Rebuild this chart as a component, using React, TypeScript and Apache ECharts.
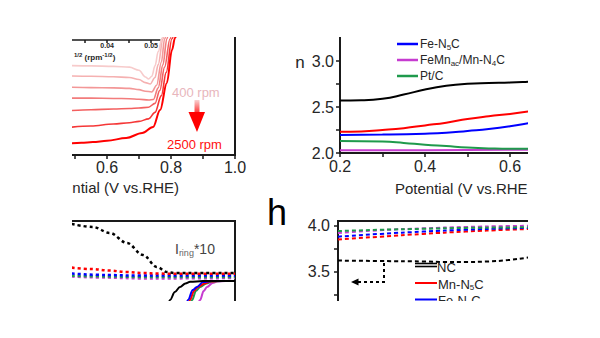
import React, { useEffect, useRef } from 'react';
import * as echarts from 'echarts';

const FONT = '"Liberation Sans", Arial, Helvetica, sans-serif';
const INK = '#1a1a1a';
const LABEL = '#262626';

// ---- Panel A: LSV curves at different rotation speeds (x: V vs RHE, y: mA cm-2)
const rpmColors = ['#f7cbcb', '#f5b1b1', '#f39797', '#f27c7c', '#f35f5f', '#f53737', '#ff0000'];
const lsv400 = [[0.49, -2.54], [0.55, -2.55], [0.62, -2.57], [0.67, -2.6], [0.70, -2.72], [0.72, -2.98], [0.73, -3.06], [0.74, -2.95], [0.75, -2.55], [0.76, -2.0], [0.772, -1.47], [0.79, -0.7], [0.82, -0.2], [0.9, -0.02]];
const lsv625 = [[0.49, -2.94], [0.55, -2.95], [0.62, -2.97], [0.67, -3.0], [0.70, -3.08], [0.72, -3.2], [0.735, -3.25], [0.75, -3.0], [0.76, -2.5], [0.775, -1.5], [0.79, -0.8], [0.82, -0.25], [0.9, -0.03]];
const lsv900 = [[0.49, -3.38], [0.55, -3.39], [0.62, -3.4], [0.67, -3.42], [0.70, -3.47], [0.72, -3.53], [0.74, -3.56], [0.755, -3.3], [0.77, -2.4], [0.78, -1.5], [0.80, -0.7], [0.83, -0.25], [0.9, -0.03]];
const lsv1225 = [[0.49, -3.8], [0.55, -3.8], [0.62, -3.81], [0.67, -3.82], [0.70, -3.84], [0.73, -3.87], [0.745, -3.85], [0.76, -3.4], [0.775, -2.5], [0.787, -1.5], [0.80, -0.8], [0.83, -0.3], [0.9, -0.03]];
const lsv1600 = [[0.49, -4.28], [0.55, -4.25], [0.62, -4.22], [0.67, -4.2], [0.70, -4.18], [0.73, -4.15], [0.75, -4.0], [0.765, -3.5], [0.78, -2.6], [0.797, -1.5], [0.81, -0.8], [0.84, -0.3], [0.9, -0.03]];
const lsv2025 = [[0.49, -4.92], [0.55, -4.88], [0.62, -4.8], [0.67, -4.75], [0.70, -4.7], [0.73, -4.6], [0.75, -4.35], [0.77, -3.7], [0.785, -2.8], [0.803, -1.5], [0.82, -0.8], [0.85, -0.3], [0.9, -0.03]];
const lsv2500 = [[0.49, -5.55], [0.52, -5.53], [0.556, -5.5], [0.60, -5.45], [0.66, -5.34], [0.71, -5.15], [0.744, -4.92], [0.766, -4.26], [0.787, -3.21], [0.803, -1.94], [0.8125, -1.47], [0.83, -0.8], [0.86, -0.3], [0.92, -0.03]];
const lsvSets = [lsv400, lsv625, lsv900, lsv1225, lsv1600, lsv2025, lsv2500];
const aTicks = [0.5, 0.6, 0.7, 0.8, 0.9, 1.0];
const aLabels = [0.6, 0.8, 1.0];
const insetTicks = [0.035, 0.04, 0.045, 0.05];
const insetLabels = [0.04, 0.05];

// ---- Panel B: electron transfer number n
const nNC = [[0.2, 2.57], [0.25, 2.573], [0.3, 2.59], [0.35, 2.635], [0.4, 2.69], [0.45, 2.73], [0.5, 2.752], [0.55, 2.76], [0.6, 2.765], [0.65, 2.775], [0.7, 2.785]];
const nMn = [[0.2, 2.23], [0.25, 2.235], [0.3, 2.25], [0.35, 2.27], [0.4, 2.3], [0.45, 2.33], [0.5, 2.37], [0.55, 2.4], [0.6, 2.425], [0.65, 2.455], [0.7, 2.48]];
const nFe = [[0.2, 2.195], [0.3, 2.2], [0.4, 2.21], [0.45, 2.22], [0.5, 2.24], [0.55, 2.26], [0.6, 2.29], [0.65, 2.33], [0.7, 2.37]];
const nPt = [[0.2, 2.13], [0.3, 2.125], [0.35, 2.11], [0.4, 2.09], [0.45, 2.075], [0.5, 2.06], [0.55, 2.05], [0.6, 2.045], [0.7, 2.045]];
const nFeMn = [[0.2, 2.03], [0.4, 2.03], [0.6, 2.035], [0.7, 2.035]];
const bxTicks = [0.2, 0.3, 0.4, 0.5, 0.6];
const bxLabels = [0.2, 0.4, 0.6];
const byTicks = [2.0, 2.25, 2.5, 2.75, 3.0];
const byLabels = [2.0, 2.5, 3.0];

// ---- Panel C: RRDE ring (x10, dashed) and disk (solid) currents
const ringNC = [[0.49, 2.85], [0.556, 2.7], [0.609, 2.4], [0.6625, 1.9], [0.7125, 1.3], [0.756, 0.7], [0.7875, 0.45], [0.81, 0.4], [0.9, 0.4], [1.0, 0.4]];
const ringMn = [[0.49, 0.67], [0.55, 0.6], [0.609, 0.52], [0.66, 0.45], [0.7125, 0.4], [0.76, 0.37], [0.85, 0.36], [1.0, 0.36]];
const ringFe = [[0.49, 0.37], [0.6, 0.3], [0.7, 0.27], [0.8, 0.27], [1.0, 0.28]];
const ringPt = [[0.49, 0.26], [0.6, 0.23], [0.7, 0.2], [0.8, 0.2], [1.0, 0.2]];
const ringFeMn = [[0.49, 0.22], [0.6, 0.17], [0.7, 0.13], [0.8, 0.13], [1.0, 0.15]];
const diskNC = [[0.74, -4], [0.77, -2.5], [0.797, -0.95], [0.812, -0.55], [0.828, -0.3], [0.845, -0.12], [0.86, -0.04], [0.9, 0], [1.0, 0]];
const diskFe = [[0.80, -4], [0.83, -2.3], [0.853, -0.95], [0.868, -0.45], [0.881, -0.3], [0.9, -0.05], [0.93, 0], [1.0, 0]];
const diskMn = [[0.805, -4], [0.835, -2.3], [0.859, -0.95], [0.872, -0.5], [0.884, -0.3], [0.905, -0.12], [0.922, -0.03], [0.95, 0], [1.0, 0]];
const diskPt = [[0.81, -4], [0.84, -2.3], [0.866, -0.95], [0.878, -0.5], [0.891, -0.3], [0.91, -0.12], [0.928, -0.03], [0.96, 0], [1.0, 0]];
const diskFeMn = [[0.83, -4], [0.86, -2.3], [0.891, -0.95], [0.902, -0.5], [0.9125, -0.3], [0.93, -0.1], [0.944, -0.03], [0.97, 0], [1.0, 0]];

// ---- Panel D: n from RRDE
const hNC = [[0.2, 3.62], [0.3, 3.615], [0.4, 3.61], [0.45, 3.605], [0.5, 3.605], [0.55, 3.61], [0.6, 3.625], [0.65, 3.655], [0.7, 3.69]];
const hMn = [[0.2, 3.85], [0.3, 3.88], [0.4, 3.91], [0.5, 3.935], [0.6, 3.955], [0.7, 3.97]];
const hFe = [[0.2, 3.88], [0.3, 3.91], [0.4, 3.935], [0.5, 3.955], [0.6, 3.97], [0.7, 3.98]];
const hPt = [[0.2, 3.94], [0.3, 3.955], [0.4, 3.965], [0.5, 3.975], [0.6, 3.98], [0.7, 3.985]];
const hFeMn = [[0.2, 3.92], [0.3, 3.95], [0.4, 3.97], [0.5, 3.985], [0.6, 3.995], [0.7, 4.0]];
const hTicks = [3.25, 3.5, 3.75, 4.0];
const hLabels = [3.5, 4.0];

const C_BLACK = '#000000';
const C_RED = '#ff0000';
const C_BLUE = '#0000ff';
const C_GREEN = '#1f9a4c';
const C_MAG = '#c63bd0';

const axisLineS = { onZero: false, lineStyle: { color: INK, width: 2 } };
const tick = (vals: number[]) => ({ length: 4, customValues: vals, lineStyle: { color: INK, width: 1.5 } });
const lab = (vals: number[], margin: number) => ({ fontSize: 16, color: LABEL, margin, customValues: vals, formatter: (v: number) => v.toFixed(1) });

function line(data: number[][], idx: number, color: string, width: number, dash?: any, mono = true) {
  const s: any = {
    type: 'line', xAxisIndex: idx, yAxisIndex: idx, data, showSymbol: false, symbol: 'none',
    smooth: mono ? 0.35 : 0.5, z: 2,
    lineStyle: { color, width, type: dash || 'solid' },
  };
  if (mono) s.smoothMonotone = 'x';
  return s;
}

function rt(x: number, y: number, text: string, rich: any, align = 'left') {
  return {
    type: 'text', x, y, z: 50,
    style: { text, rich, textAlign: align, align, textVerticalAlign: 'middle', verticalAlign: 'middle', fontFamily: FONT },
  };
}
function tx(x: number, y: number, text: string, size: number, fill: string, align = 'left', weight = 'normal') {
  return {
    type: 'text', x, y, z: 50,
    style: { text, fontSize: size, fill, fontFamily: FONT, fontWeight: weight, textAlign: align, align, textVerticalAlign: 'middle', verticalAlign: 'middle' },
  };
}
function seg(x1: number, y1: number, x2: number, y2: number, color: string, w: number) {
  return { type: 'line', z: 50, shape: { x1, y1, x2, y2 }, style: { stroke: color, lineWidth: w } };
}
const sub = (size: number, fill: string, pad: number) => ({ fontSize: size, fill, fontFamily: FONT, padding: [pad, 0, 0, 0] });
const main = (size: number, fill: string) => ({ fontSize: size, fill, fontFamily: FONT });

export default function App() {
  const ref = useRef<HTMLDivElement>(null);
  useEffect(() => {
    if (!ref.current) return;
    const chart = echarts.init(ref.current, undefined, { renderer: 'svg' });
    const series: any[] = [];
    lsvSets.forEach((d, i) => series.push(line(d, 0, rpmColors[i], i === 6 ? 2 : 1.6)));
    series.push(
      line(nFeMn, 2, C_MAG, 2, undefined, false), line(nPt, 2, C_GREEN, 2, undefined, false), line(nFe, 2, C_BLUE, 2, undefined, false),
      line(nMn, 2, C_RED, 2, undefined, false), line(nNC, 2, C_BLACK, 2, undefined, false),
    );
    const dC = [3, 3];
    series.push(
      line(ringFeMn, 3, C_MAG, 2.5, dC), line(ringPt, 3, C_GREEN, 2.5, dC), line(ringFe, 3, C_BLUE, 2.5, dC),
      line(ringMn, 3, C_RED, 2.5, dC), line(ringNC, 3, C_BLACK, 2.5, dC),
      line(diskFeMn, 3, C_MAG, 2), line(diskPt, 3, C_GREEN, 2), line(diskMn, 3, C_RED, 2), line(diskFe, 3, C_BLUE, 2), line(diskNC, 3, C_BLACK, 2),
    );
    const dD = [4, 3];
    series.push(
      line(hNC, 4, C_BLACK, 2, dD, false), line(hMn, 4, C_RED, 2, dD, false), line(hFe, 4, C_BLUE, 2, dD, false),
      line(hFeMn, 4, C_MAG, 2, dD, false), line(hPt, 4, C_GREEN, 2, dD, false),
    );

    const graphic: any[] = [
      // Panel A annotations
      tx(172, 92, '400 rpm', 13, '#e8b6bc'),
      tx(167, 144, '2500 rpm', 13, '#ff1010'),
      {
        type: 'rect', z: 50, shape: { x: 194.5, y: 100, width: 5, height: 13 },
        style: { fill: new echarts.graphic.LinearGradient(0, 0, 0, 1, [{ offset: 0, color: '#f8d2d2' }, { offset: 1, color: '#ff3030' }]) },
      },
      { type: 'polygon', z: 50, shape: { points: [[188.5, 112], [205, 112], [197, 132]] }, style: { fill: '#ff0000' } },
      tx(179, 187, 'ntial (V vs.RHE)', 15, LABEL, 'right'),
      rt(74, 57, '{s|1/2}{m| (rpm}{s|-1/2}{m|)}', {
        m: { fontSize: 8, fontWeight: 'bold', fill: LABEL, fontFamily: FONT },
        s: { fontSize: 6, fontWeight: 'bold', fill: LABEL, fontFamily: FONT, padding: [0, 0, 5, 0] },
      }),
      // Panel B annotations
      tx(300, 62, 'n', 17, LABEL, 'center'),
      tx(395, 188, 'Potential (V vs.RHE', 15, LABEL),
      seg(397, 44, 418, 44, C_BLUE, 2.5),
      rt(420, 44, '{m|Fe-N}{s|5}{m|C}', { m: main(12, LABEL), s: sub(8, LABEL, 7) }),
      seg(397, 60, 418, 60, C_MAG, 2.5),
      rt(420, 60, '{m|FeMn}{s|ac}{m|/Mn-N}{s|4}{m|C}', { m: main(12, LABEL), s: sub(8, LABEL, 7) }),
      seg(397, 76, 418, 76, C_GREEN, 2.5),
      rt(420, 76, '{m|Pt/C}', { m: main(12, LABEL) }),
      // Panel C annotation
      rt(175, 249, '{m|I}{s|ring}{m|*10}', { m: main(14, '#444'), s: sub(9, '#666', 8) }),
      // Panel D annotations
      tx(267, 212, 'h', 36, '#000'),
      { type: 'polyline', z: 50, shape: { points: [[384, 263], [384, 282], [358, 282]] }, style: { stroke: '#000', lineWidth: 2, lineDash: [3, 3], fill: 'none' } },
      { type: 'polygon', z: 50, shape: { points: [[351, 282], [358.5, 278.5], [358.5, 285.5]] }, style: { fill: '#000' } },
      seg(415, 263.5, 437, 263.5, '#000', 1.6),
      seg(415, 266.5, 437, 266.5, '#000', 1.6),
      rt(437, 267, '{m|NC}', { m: main(13, LABEL) }),
      seg(415, 283, 437, 283, C_RED, 2),
      rt(438, 284, '{m|Mn-N}{s|5}{m|C}', { m: main(13, LABEL), s: sub(8, LABEL, 7) }),
      seg(415, 299.5, 437, 299.5, C_BLUE, 2),
      rt(438, 300, '{m|Fe-N}{s|5}{m|C}', { m: main(13, LABEL), s: sub(8, LABEL, 7) }),
    ];

    const option: any = {
      animation: false,
      textStyle: { fontFamily: FONT },
      grid: [
        { left: 43, top: 0, width: 192, height: 155, show: true, borderColor: INK, borderWidth: 2 },
        { left: 41, top: 0, width: 119, height: 40 },
        { left: 340, top: 15, width: 255, height: 138, show: true, borderColor: INK, borderWidth: 2 },
        { left: 43, top: 221, width: 192, height: 160, show: true, borderColor: INK, borderWidth: 2 },
        { left: 338, top: 221, width: 255, height: 96.6, show: true, borderColor: INK, borderWidth: 2 },
      ],
      xAxis: [
        {
          gridIndex: 0, type: 'value', min: 0.4, max: 1.0, axisLine: axisLineS, axisTick: tick(aTicks), splitLine: { show: false },
          axisLabel: lab(aLabels, 4),
        },
        {
          gridIndex: 1, type: 'value', min: 0.025, max: 0.052, axisLine: { onZero: false, lineStyle: { color: INK, width: 1.5 } },
          axisTick: { length: 3, customValues: insetTicks, lineStyle: { color: INK, width: 1.5 } }, splitLine: { show: false },
          axisLabel: { fontSize: 7, fontWeight: 'bold', color: LABEL, margin: 2, customValues: insetLabels, formatter: (v: number) => v.toFixed(2) },
        },
        {
          gridIndex: 2, type: 'value', min: 0.2, max: 0.8, axisLine: axisLineS, axisTick: tick(bxTicks), splitLine: { show: false },
          axisLabel: lab(bxLabels, 5),
        },
        { gridIndex: 3, type: 'value', min: 0.4, max: 1.0, show: false },
        { gridIndex: 4, type: 'value', min: 0.2, max: 0.8, show: false },
      ],
      yAxis: [
        { gridIndex: 0, type: 'value', min: -6, max: 0, show: false },
        { gridIndex: 1, type: 'value', min: 0, max: 1, show: false },
        {
          gridIndex: 2, type: 'value', min: 2.0, max: 3.5, axisLine: axisLineS, axisTick: tick(byTicks), splitLine: { show: false },
          axisLabel: lab(byLabels, 6),
        },
        { gridIndex: 3, type: 'value', min: -5, max: 3, show: false },
        {
          gridIndex: 4, type: 'value', min: 3.0, max: 4.05, axisLine: axisLineS, axisTick: tick(hTicks), splitLine: { show: false },
          axisLabel: lab(hLabels, 8),
        },
      ],
      series,
      graphic,
    };
    chart.setOption(option);
    return () => chart.dispose();
  }, []);

  return (
    <div style={{ position: 'fixed', left: 0, top: 0, width: 600, height: 338, background: '#fff', overflow: 'hidden' }}>
      <div style={{ position: 'absolute', left: 72, top: 37, width: 456, height: 264, overflow: 'hidden' }}>
        <div ref={ref} style={{ position: 'absolute', left: -72, top: -37, width: 600, height: 460 }} />
      </div>
    </div>
  );
}
